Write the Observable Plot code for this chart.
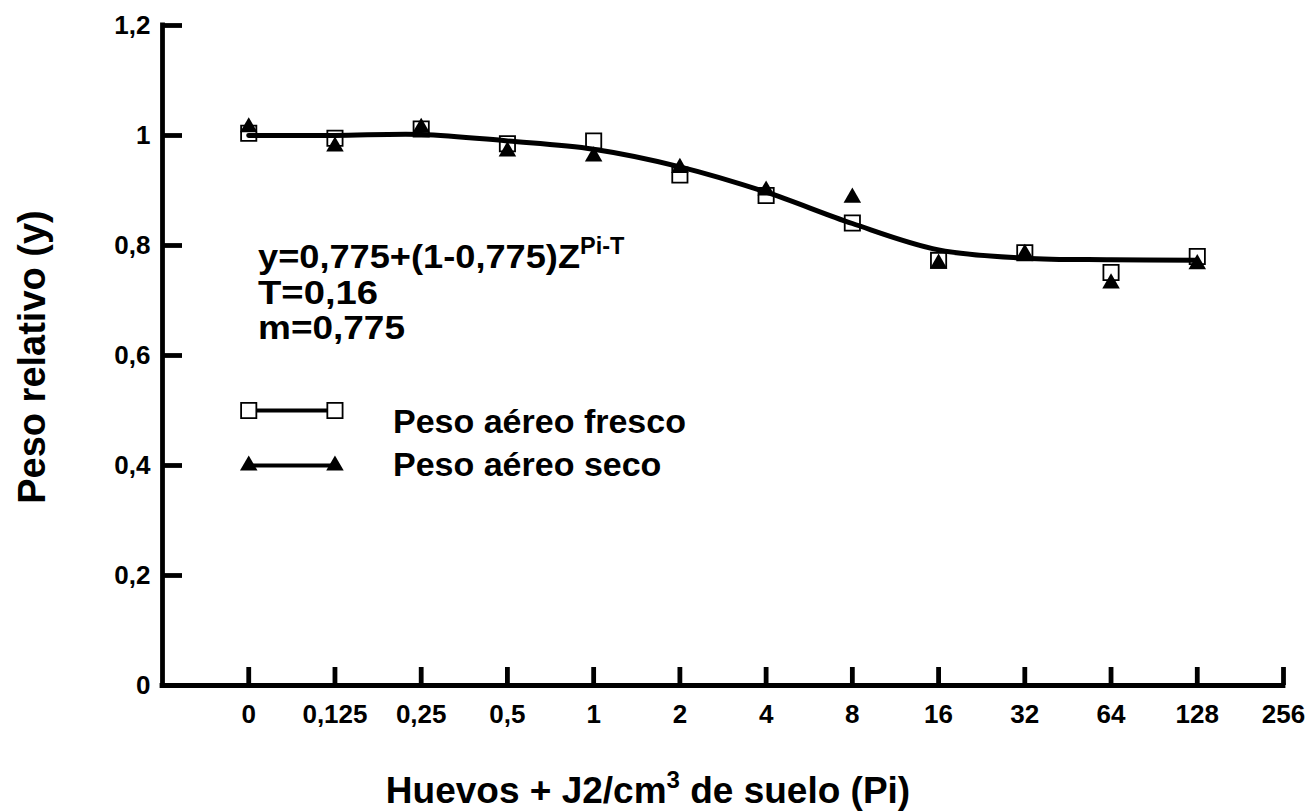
<!DOCTYPE html>
<html>
<head>
<meta charset="utf-8">
<script src="https://cdn.jsdelivr.net/npm/d3@7"></script>
<script src="https://cdn.jsdelivr.net/npm/@observablehq/plot@0.6"></script>
<style>
  html, body { margin: 0; padding: 0; background: #fff; }
  #chart svg { display: block; }
</style>
</head>
<body>
<div id="chart"></div>
<script>
// ---- data ----
const xLabels = ["0", "0,125", "0,25", "0,5", "1", "2", "4", "8", "16", "32", "64", "128", "256"];
const doses = ["0", "0,125", "0,25", "0,5", "1", "2", "4", "8", "16", "32", "64", "128"];
const frescoValues = [1.004, 0.995, 1.012, 0.985, 0.990, 0.928, 0.891, 0.841, 0.773, 0.787, 0.751, 0.780];
const secoValues   = [1.015, 0.980, 1.014, 0.971, 0.962, 0.941, 0.900, 0.887, 0.767, 0.785, 0.731, 0.766];
const curveValues  = [1.000, 1.000, 1.002, 0.990, 0.975, 0.943, 0.897, 0.840, 0.792, 0.777, 0.774, 0.773];
const yTicks = [0, 0.2, 0.4, 0.6, 0.8, 1.0, 1.2];
const seriesNames = ["Peso aéreo fresco", "Peso aéreo seco"];
const equationLines = ["y=0,775+(1-0,775)Z", "T=0,16", "m=0,775"];
const equationSup = "Pi-T";
const xTitle = ["Huevos + J2/cm", "3", " de suelo (Pi)"];
const yTitle = "Peso relativo (y)";

// ---- tables built from the arrays ----
const fresco = doses.map((d, i) => ({i, v: frescoValues[i]}));
const seco = doses.map((d, i) => ({i, v: secoValues[i]}));
const fit = doses.map((d, i) => ({i, v: curveValues[i]}));
// legend samples placed in data space (as in the original figure)
const legendFresco = [{i: 0, v: 0.5}, {i: 1, v: 0.5}];
const legendSeco = [{i: 0, v: 0.4}, {i: 1, v: 0.4}];

const FONT = "'Liberation Sans', Arial, Helvetica, sans-serif";
const W = 1310, H = 811;
const SW = 4.8;

const fmtY = d => (Math.round(d * 10) / 10).toString().replace(".", ",");

const plot = Plot.plot({
  width: W,
  height: H,
  marginLeft: 162,
  marginRight: 27,
  marginTop: 25,
  marginBottom: 126,
  style: {fontFamily: FONT, background: "#fff", color: "#000"},
  x: {type: "linear", domain: [-1, 12]},
  y: {domain: [0, 1.2]},
  marks: [
    Plot.axisX(d3.range(0, 13), {
      tickSize: -18, tickPadding: 37, strokeWidth: SW,
      tickFormat: i => xLabels[i], fontSize: 26, fontWeight: "bold", label: null
    }),
    Plot.axisY(yTicks, {
      tickSize: -20, tickPadding: 32, strokeWidth: SW,
      tickFormat: fmtY, fontSize: 26, fontWeight: "bold", label: null
    }),
    Plot.ruleY([0], {strokeWidth: SW, strokeLinecap: "square"}),
    Plot.ruleX([-1], {strokeWidth: SW, strokeLinecap: "square"}),
    // fresh weight squares
    Plot.dot(fresco, {x: "i", y: "v", symbol: "square", r: 8.6, fill: "white", stroke: "black", strokeWidth: 1.8}),
    // fitted curve
    Plot.line(fit, {x: "i", y: "v", curve: "catmull-rom", strokeWidth: 5, stroke: "black"}),
    // dry weight triangles
    Plot.dot(seco, {x: "i", y: "v", symbol: "triangle", r: 6.5, fill: "black", stroke: "none"}),
    // legend
    Plot.line(legendFresco, {x: "i", y: "v", strokeWidth: 4}),
    Plot.dot(legendFresco, {x: "i", y: "v", symbol: "square", r: 8.6, fill: "white", stroke: "black", strokeWidth: 1.8}),
    Plot.line(legendSeco, {x: "i", y: "v", strokeWidth: 4}),
    Plot.dot(legendSeco, {x: "i", y: "v", symbol: "triangle", r: 6.5, fill: "black"})
  ]
});

document.getElementById("chart").appendChild(plot);

// ---- text annotations ----
const svg = d3.select(plot);
const g = svg.append("g")
  .attr("font-family", FONT)
  .attr("font-weight", "bold")
  .attr("text-anchor", "start")
  .attr("fill", "#000");

// equation block (slightly widened glyphs, as in the original typesetting)
const eqX = 258, eqY0 = 268, eqDy = 35.5, eqFont = 33.5;
const eqWidths = [322, 120, 147];
equationLines.forEach((t, k) => {
  const tx = g.append("text").attr("x", eqX).attr("y", eqY0 + k * eqDy).attr("font-size", eqFont);
  const main = tx.append("tspan").attr("textLength", eqWidths[k]).attr("lengthAdjust", "spacingAndGlyphs").text(t);
  if (k === 0) tx.append("tspan").attr("dy", -14).attr("font-size", 23.5).text(equationSup);
});

// legend labels
const legendTextY = [433, 476];
seriesNames.forEach((t, k) => {
  g.append("text").attr("x", 393).attr("y", legendTextY[k]).attr("font-size", 34).text(t);
});

// x title
const xt = g.append("text").attr("x", 648).attr("y", 803).attr("text-anchor", "middle").attr("font-size", 37);
xt.append("tspan").text(xTitle[0]);
xt.append("tspan").attr("dy", -15).attr("font-size", 24).text(xTitle[1]);
xt.append("tspan").attr("dy", 15).text(xTitle[2]);

// y title
g.append("text")
  .attr("transform", "translate(45,357) rotate(-90)")
  .attr("text-anchor", "middle")
  .attr("font-size", 38)
  .text(yTitle);
</script>
</body>
</html>
